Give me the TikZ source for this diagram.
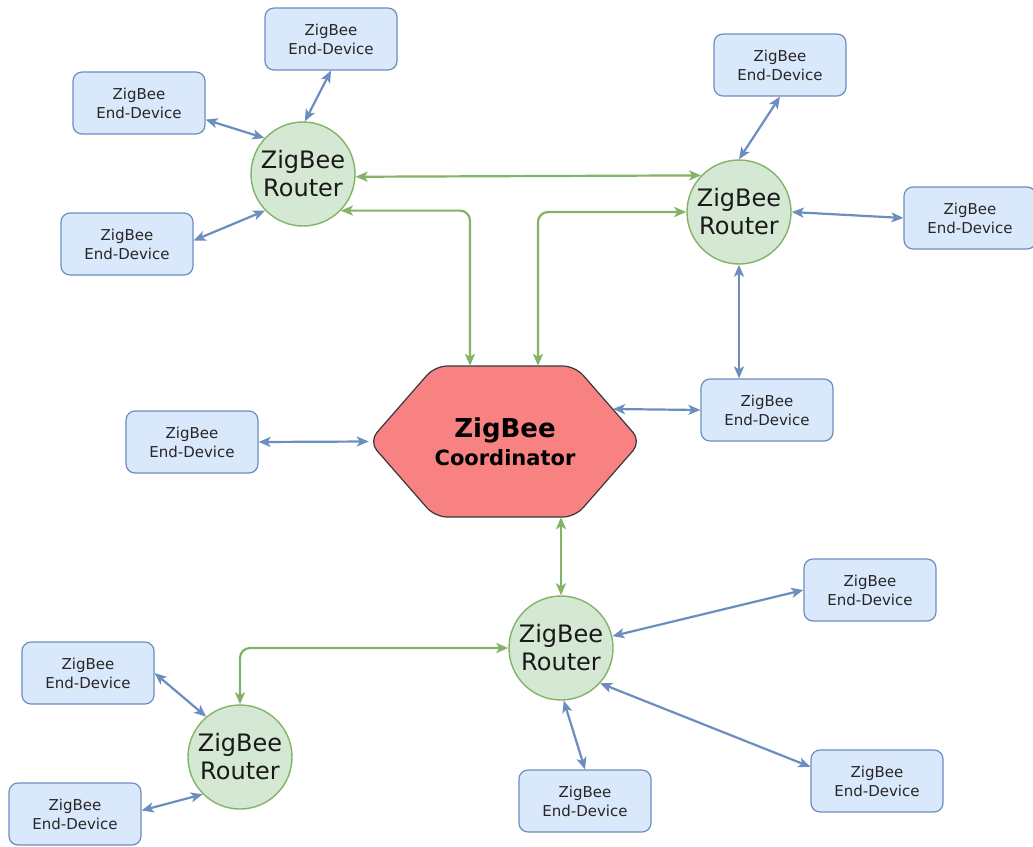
\documentclass[tikz,border=0pt]{standalone}
\usepackage{fontspec}
\setmainfont{DejaVu Sans}
\usetikzlibrary{arrows.meta,calc}
\definecolor{rfill}{HTML}{D5E8D4}
\definecolor{rline}{HTML}{82B366}
\definecolor{efill}{HTML}{DAE8FC}
\definecolor{eline}{HTML}{6C8EBF}
\definecolor{cfill}{HTML}{F88181}
\definecolor{cline}{HTML}{36393D}
\begin{document}
\begin{tikzpicture}[x=1pt,y=-1pt,
  enddev/.style={draw=eline, fill=efill, rounded corners=9pt, line width=1.2pt,
    minimum width=132pt, minimum height=62pt, inner sep=0pt, align=center,
    font=\fontsize{15}{19}\selectfont, text=black!85},
  router/.style={circle, draw=rline, fill=rfill, line width=1.4pt,
    minimum size=104pt, inner sep=0pt, align=center,
    font=\fontsize{24}{28}\selectfont, text=black!90},
  blink/.style={draw=eline, line width=2.2pt, {Stealth[length=12pt,width=10pt,inset=3pt]}-{Stealth[length=12pt,width=10pt,inset=3pt]}},
  glink/.style={draw=rline, line width=2.2pt, rounded corners=10pt, {Stealth[length=12pt,width=10pt,inset=3pt]}-{Stealth[length=12pt,width=10pt,inset=3pt]}},
  hexa/.style={draw=cline, fill=cfill, line width=1.2pt, rounded corners=12pt}
]
\useasboundingbox (0,0) rectangle (1033,846);
\fill[white] (0,0) rectangle (1033,846);

% coordinator hexagon
\path[hexa] (369,441.5) -- (435,366) -- (575,366) -- (641,441.5) -- (575,517) -- (435,517) -- cycle;
\node[minimum width=272pt, minimum height=151pt, inner sep=0pt, align=center] (C) at (505,441.5)
  {{\fontsize{26}{28}\selectfont\bfseries ZigBee}\\[5pt]{\fontsize{21}{28}\selectfont\bfseries Coordinator}};
\coordinate (Ct1) at ($(C.north)+(-35,0)$);
\coordinate (Ct2) at ($(C.north)+(33,0)$);
\coordinate (Cr) at (613,409);

% routers
\node[router] (R1) at (303,174) {ZigBee\\Router};
\node[router] (R2) at (739,212) {ZigBee\\Router};
\node[router] (R3) at (561,648) {ZigBee\\Router};
\node[router] (R4) at (240,757) {ZigBee\\Router};

% end devices
\node[enddev] (E1) at (331,39) {ZigBee\\End-Device};
\node[enddev] (E2) at (139,103) {ZigBee\\End-Device};
\node[enddev] (E3) at (127,244) {ZigBee\\End-Device};
\node[enddev] (E4) at (780,65) {ZigBee\\End-Device};
\node[enddev] (E5) at (970,218) {ZigBee\\End-Device};
\node[enddev] (E6) at (767,410) {ZigBee\\End-Device};
\node[enddev] (E7) at (192,442) {ZigBee\\End-Device};
\node[enddev] (E8) at (870,590) {ZigBee\\End-Device};
\node[enddev] (E9) at (88,673) {ZigBee\\End-Device};
\node[enddev] (E10) at (75,814) {ZigBee\\End-Device};
\node[enddev] (E11) at (585,801) {ZigBee\\End-Device};
\node[enddev] (E12) at (877,781) {ZigBee\\End-Device};

% connectors
\draw[blink] (E1.south) -- (R1.88);
\draw[blink] (E2.-14) -- (R1.137);
\draw[blink] (E3.3) -- (R1.224);
\draw[glink] (R1.-3) -- (R2.136);
\draw[glink] (R1.-44) -| (Ct1);
\draw[glink] (Ct2) |- (R2.west);
\draw[blink] (E4.south) -- (R2.north);
\draw[blink] (R2.east) -- (E5.west);
\draw[blink] (R2.south) -- (R2.south |- E6.north);
\draw[blink] (E6.west) -- (Cr);
\draw[blink] (E7.east) -- (C.west);
\draw[glink] (C.south -| R3.north) -- (R3.north);
\draw[glink] (R3.west) -| (R4.north);
\draw[blink] (R3.13) -- (E8.west);
\draw[blink] (R3.-87) -- (E11.north);
\draw[blink] (R3.-42) -- (E12.168);
\draw[blink] (E9.east) -- (R4.130);
\draw[blink] (E10.3) -- (R4.225);
\end{tikzpicture}
\end{document}
